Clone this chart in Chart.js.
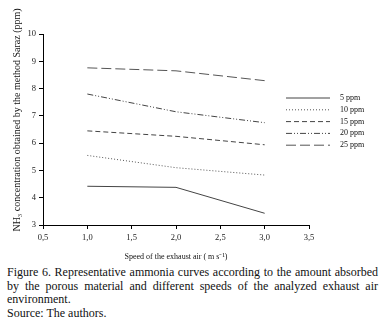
<!DOCTYPE html>
<html>
<head>
<meta charset="utf-8">
<script src="https://cdn.jsdelivr.net/npm/chart.js@4"></script>
<style>
  html, body { margin: 0; padding: 0; background: #fff; }
  #wrap { width: 384px; height: 262px; }
  #caption {
    font-family: "Liberation Serif", "Times New Roman", serif;
    font-size: 12px; line-height: 13.5px; color: #111;
    margin: 4px 6px 0 7px; text-align: justify;
  }
</style>
</head>
<body>
<div id="wrap"><canvas id="chart" width="384" height="262"></canvas></div>
<div id="caption">Figure 6. Representative ammonia curves according to the amount absorbed by the porous material and different speeds of the analyzed exhaust air environment.<br>Source: The authors.</div>
<script>
// --- DATA ---
const speeds = [1.0, 2.0, 3.0];
const labels = ["5 ppm", "10 ppm", "15 ppm", "20 ppm", "25 ppm"];
const ppm5 = [4.42, 4.38, 3.43];
const ppm10 = [5.55, 5.1, 4.83];
const ppm15 = [6.45, 6.25, 5.94];
const ppm20 = [7.8, 7.15, 6.75];
const ppm25 = [8.76, 8.65, 8.29];
const yTicks = [3, 4, 5, 6, 7, 8, 9, 10];
const yTitle = "NH\u2083 concentration obtained by the method Saraz (ppm)";

const seriesValues = [ppm5, ppm10, ppm15, ppm20, ppm25];
const dashes = [[], [1, 2], [5, 3], [6, 2, 1, 2, 1, 2], [10, 4]];
const colors = ["#444", "#555", "#444", "#444", "#555"];

const serif = "'Liberation Serif', 'Times New Roman', serif";

// --- LEGEND + Y TITLE (drawn by hand) ---
const sideLegend = {
  id: "sideLegend",
  afterDraw(chart) {
    const ctx = chart.ctx;
    ctx.save();
    ctx.font = "8px " + serif;
    ctx.textBaseline = "middle";
    chart.data.datasets.forEach((ds, i) => {
      const y = 98 + i * 11.8;
      ctx.strokeStyle = ds.borderColor;
      ctx.lineWidth = 1;
      ctx.setLineDash(ds.borderDash);
      ctx.beginPath();
      ctx.moveTo(286, y);
      ctx.lineTo(330, y);
      ctx.stroke();
      ctx.setLineDash([]);
      ctx.fillStyle = "#111";
      ctx.fillText(ds.label, 340, y);
    });
    // rotated y-axis title
    ctx.translate(17, 120);
    ctx.rotate(-Math.PI / 2);
    ctx.font = "10px " + serif;
    ctx.textAlign = "center";
    ctx.fillText(yTitle, 0, 0);
    ctx.restore();
  }
};

new Chart(document.getElementById("chart"), {
  type: "scatter",
  data: {
    datasets: labels.map((l, i) => ({
      label: l,
      data: speeds.map((s, j) => ({ x: s, y: seriesValues[i][j] })),
      showLine: true,
      borderColor: colors[i],
      borderDash: dashes[i],
      borderWidth: 1,
      pointRadius: 0,
      tension: 0
    }))
  },
  options: {
    responsive: false,
    animation: false,
    layout: { padding: { top: 34, right: 75, left: 0, bottom: 0 } },
    plugins: { legend: { display: false }, tooltip: { enabled: false } },
    scales: {
      x: {
        type: "linear",
        min: 0.5, max: 3.5,
        afterFit: s => { s.height = 37; },
        afterBuildTicks: s => { s.ticks = [0.5, 1, 1.5, 2, 2.5, 3, 3.5].map(v => ({ value: v })); },
        ticks: {
          font: { family: serif, size: 8.5 }, color: "#222", padding: 4,
          callback: v => v.toFixed(1).replace(".", ",")
        },
        grid: { drawOnChartArea: false, drawTicks: true, tickLength: 4, color: "#000" },
        border: { color: "#000", width: 1 },
        title: {
          display: true, text: "Speed of the exhaust air ( m s\u207B\u00B9)",
          font: { family: serif, size: 8 }, color: "#111", padding: { top: 4, bottom: 0 }
        }
      },
      y: {
        min: 3, max: 10,
        afterFit: s => { s.width = 43; },
        afterBuildTicks: s => { s.ticks = yTicks.map(v => ({ value: v })); },
        ticks: { font: { family: serif, size: 8.5 }, color: "#222", padding: 3 },
        grid: { drawOnChartArea: false, drawTicks: true, tickLength: 4, color: "#000" },
        border: { color: "#000", width: 1 }
      }
    }
  },
  plugins: [sideLegend]
});
</script>
</body>
</html>
